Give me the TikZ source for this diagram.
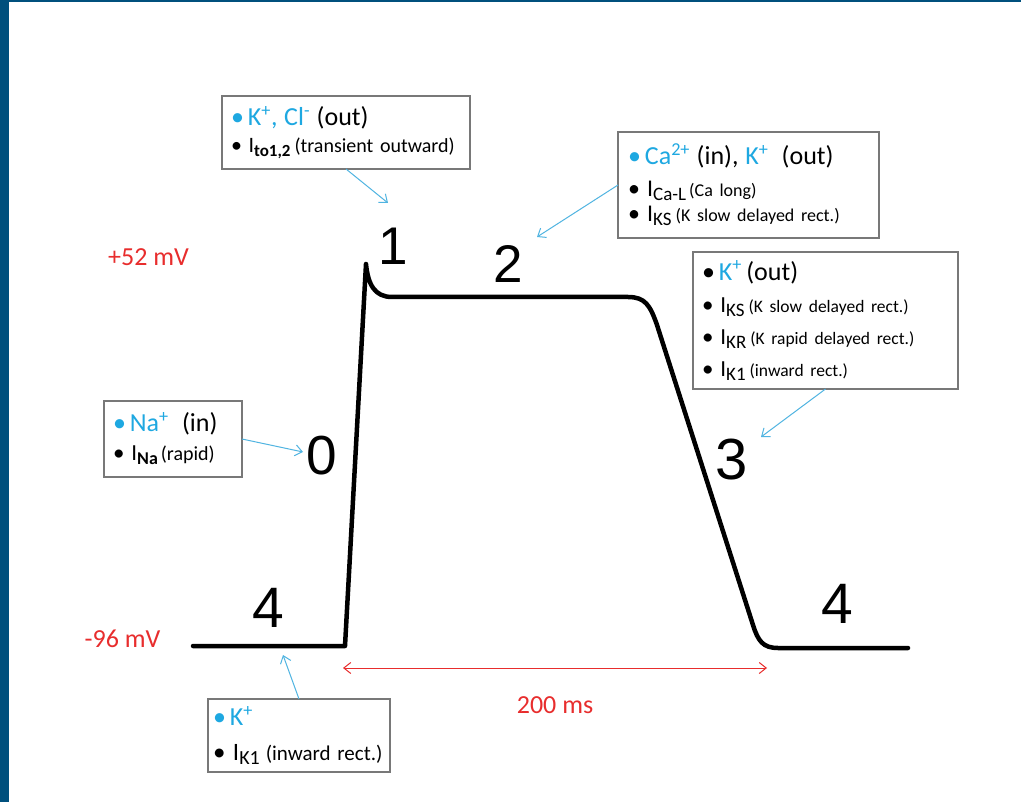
\documentclass[tikz,border=0pt]{standalone}
\usepackage{fontspec}
\setmainfont{Carlito}
\newfontfamily\numfont{Liberation Sans}
\usetikzlibrary{arrows.meta}
\definecolor{cblue}{RGB}{30,168,225}
\definecolor{ared}{RGB}{232,45,45}
\definecolor{ablue}{RGB}{80,180,225}
\definecolor{framecol}{RGB}{0,80,125}
\definecolor{boxgray}{RGB}{120,120,120}
\newcommand{\fs}[1]{\fontsize{#1}{#1}\selectfont}
\newcommand{\fsb}[2]{\fontsize{#1}{#2}\selectfont}
\newcommand{\Iline}[7]{{\fs{#1}\textbullet\hspace{0.3em}I}\raisebox{-#3}{\fs{#2}#4}\hspace{#5}{\fs{#6}#7}}
\begin{document}
\begin{tikzpicture}[x=1pt,y=-1pt,
  ibox/.style={draw=boxgray,line width=1.5pt,anchor=north west,align=left,inner ysep=0pt,outer sep=0pt},
  num/.style={anchor=base,inner sep=0pt,font=\numfont},
  rlab/.style={anchor=base,inner sep=0pt,text=ared,font=\fs{26}},
  barrow/.style={draw=ablue,line width=1pt,-{Straight Barb[length=7pt,width=11pt]}},
  rarrow/.style={draw=ared,line width=1pt,{Straight Barb[length=7pt,width=11pt]}-{Straight Barb[length=7pt,width=11pt]}},
  curve/.style={line width=4.5pt,line join=round,line cap=round}]
\useasboundingbox (0,0) rectangle (1021,802);
\fill[white] (0,0) rectangle (1021,802);
\fill[framecol] (0,0) rectangle (9,802);
\fill[framecol] (0,0) rectangle (1021,2.5);

% action potential curve
\draw[curve] (193,646) -- (345,646) -- (366,264)
  .. controls (368,285) and (375,297) .. (392,297) -- (628,297)
  .. controls (645,297) and (650,305) .. (657,325) -- (753,625)
  .. controls (758,641) and (763,648) .. (778,648) -- (908,648);

% phase numbers
\node[num,font=\numfont\fs{53}] (n1) at (393.5,265) {1};
\node[num,font=\numfont\fs{53}] (n2) at (508,283) {2};
\node[num,font=\numfont\fs{55}] (n0) at (322,475) {0};
\node[num,font=\numfont\fs{58}] (n3) at (732,479) {3};
\node[num,font=\numfont\fs{57}] (n4a) at (268,627) {4};
\node[num,font=\numfont\fs{57}] (n4b) at (837,623) {4};

% voltage labels
\node[rlab] (v52) at (148.5,266) {+52 mV};
\node[rlab] (v96) at (122.5,647) {-96 mV};
\node[rlab] (t200) at (555,713) {200 ms};

% boxes
\node[ibox,minimum height=73pt,text width=230pt,inner xsep=9pt,font=\fsb{20}{27}] (boxA) at (222,96)
 {{\fs{26}\color{cblue}\textbullet\hspace{4pt}K\textsuperscript{+}, Cl\textsuperscript{-} \color{black}(out)}\\
  \Iline{22}{17}{4pt}{\textbf{to1,2}}{4pt}{20}{(transient outward)}};

\node[ibox,minimum height=106pt,text width=241pt,inner xsep=10pt,font=\fsb{20}{25}] (boxB) at (618,132)
 {{\fs{26}\color{cblue}\textbullet\hspace{4pt}Ca\textsuperscript{2+} \color{black}(in), \color{cblue}K\textsuperscript{+}\color{black}\ \ (out)}\\[7pt]
  \Iline{24}{19}{4pt}{Ca-L}{3pt}{18}{(Ca long)}\\
  \Iline{24}{19}{4pt}{KS}{4pt}{18}{(K slow delayed rect.)}};

\node[ibox,minimum height=137pt,text width=247pt,inner xsep=9pt,font=\fsb{20}{32}] (boxC) at (693,252)
 {{\fs{26}\textbullet\hspace{4pt}\color{cblue}K\textsuperscript{+}\color{black}\,(out)}\\
  \Iline{23}{19}{4pt}{KS}{4pt}{17.5}{(K slow delayed rect.)}\\
  \Iline{23}{19}{4pt}{KR}{4pt}{17.5}{(K rapid delayed rect.)}\\
  \Iline{23}{19}{4pt}{K1}{4pt}{17.5}{(inward rect.)}};

\node[ibox,minimum height=76pt,text width=120pt,inner xsep=9pt,font=\fsb{20}{29}] (boxD) at (104,401)
 {{\fs{26}\color{cblue}\textbullet\hspace{4pt}Na\textsuperscript{+}\color{black}\ \ (in)}\\
  \Iline{23}{18}{4pt}{\textbf{Na}}{3pt}{20}{(rapid)}};

\node[ibox,minimum height=73pt,text width=172pt,inner xsep=5pt,font=\fsb{20}{35}] (boxE) at (208,699)
 {{\fs{26}\color{cblue}\textbullet\hspace{4pt}K\textsuperscript{+}}\\
  \Iline{25}{20}{4pt}{K1}{6pt}{21}{(inward rect.)}};

% arrow tips
\coordinate (tA) at (388,203);
\coordinate (tB) at (537,237);
\coordinate (tC) at (761,437);
\coordinate (tD) at (303,452);
\coordinate (tE) at (283,655);
\draw[barrow] (boxA.south) -- (tA);
\draw[barrow] (boxB.west) -- (tB);
\draw[barrow] (boxC.south) -- (tC);
\draw[barrow] (boxD.east) -- (tD);
\draw[barrow] (boxE.north) -- (tE);

% duration arrow
\coordinate (r1) at (343,668);
\coordinate (r2) at (767,668);
\draw[rarrow] (r1) -- (r2);
\end{tikzpicture}
\end{document}
